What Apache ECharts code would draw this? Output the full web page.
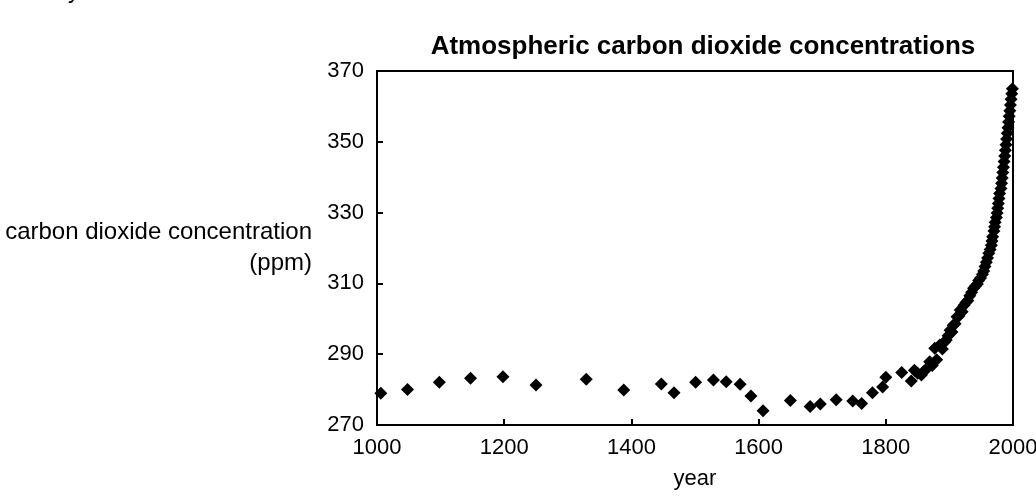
<!DOCTYPE html>
<html>
<head>
<meta charset="utf-8">
<script src="https://cdn.jsdelivr.net/npm/echarts@6/dist/echarts.min.js"></script>
<style>
html,body{margin:0;padding:0;background:#fff;}
#chart{width:1036px;height:500px;}
</style>
</head>
<body>
<div id="chart"></div>
<script>
// Atmospheric CO2 (ppm) by year
const years = [1006,1048,1098,1147,1198,1250,1329,1388,1447,1467,1501,1529,1549,1571,1588,1607,1650,1681,1697,1722,1748,1762,1779,1795,1800,
  1825,1840,1845,1850,1856,1860,1865,1869,1873,1877,1880,1885,1889,1892,1895,1898,1901,1904,1906,1909,1912,1915,1917,1920,1923,1926,1929,1932,1935,1938,1941,1944,1946,1949,1952,1954,1956,1958,
  1960,1962,1964,1966,1967,1968,1970,1971,1972,1974,1975,1976,1977,1978,1979,1981,1982,1983,1984,1985,1986,1987,1988,1989,1990,1991,1992,1993,1994,1995,1996,1997,1998,1999];
const co2 = [279.0,280.0,282.1,283.2,283.6,281.3,282.9,279.9,281.6,279.1,282.1,282.7,282.2,281.5,278.2,274.0,276.9,275.2,275.9,277.1,276.8,276.1,279.1,280.7,283.5,
  284.8,282.4,285.5,284.6,284.1,285.2,286.0,287.9,286.8,291.7,288.4,292.6,291.5,293.4,294.0,295.2,296.8,296.3,298.2,298.6,300.6,300.8,302.5,302.0,303.8,304.6,305.2,306.5,307.5,308.6,309.3,309.8,310.8,311.5,312.6,313.5,314.8,316.0,
  317.2,318.5,319.6,320.8,322.0,323.2,324.8,326.0,327.3,328.6,329.9,331.2,332.6,334.0,335.4,336.8,338.3,339.8,341.3,342.8,344.4,346.0,347.6,349.2,350.8,352.4,354.0,355.6,357.2,358.8,360.4,362.0,363.6,365.0];
const yTicks = [270,290,310,330,350,370];
const xTicks = [1000,1200,1400,1600,1800,2000];
const titleText = 'Atmospheric carbon dioxide concentrations';
const yName = ['carbon dioxide concentration', '(ppm)'];
const xName = 'year';

const FONT = '"Liberation Sans", Arial, sans-serif';
const chart = echarts.init(document.getElementById('chart'), null, {renderer: 'canvas'});
const pts = years.map((y, i) => [y, co2[i]]);

chart.setOption({
  animation: false,
  backgroundColor: '#fff',
  title: {
    text: titleText,
    left: 698, top: 29, textAlign: 'center',
    textStyle: {fontFamily: FONT, fontWeight: 'bold', fontSize: 26, color: '#000'}
  },
  grid: {left: 377, right: 23, top: 71, bottom: 75, containLabel: false, outerBoundsMode: 'none',
         show: true, borderColor: '#000', borderWidth: 2, backgroundColor: 'transparent'},
  xAxis: {
    type: 'value', min: xTicks[0], max: xTicks[xTicks.length - 1], interval: 200,
    name: xName, nameLocation: 'middle', nameGap: 43,
    nameTextStyle: {fontFamily: FONT, fontSize: 22, color: '#000'},
    axisLine: {show: true, lineStyle: {color: '#000', width: 2}},
    axisTick: {show: true, inside: true, length: 6, lineStyle: {color: '#000', width: 2}},
    axisLabel: {fontFamily: FONT, fontSize: 22, color: '#000', margin: 12, formatter: v => String(v)},
    splitLine: {show: false}
  },
  yAxis: {
    type: 'value', min: yTicks[0], max: yTicks[yTicks.length - 1], interval: 20,
    axisLine: {show: true, lineStyle: {color: '#000', width: 2}},
    axisTick: {show: true, inside: true, length: 6, lineStyle: {color: '#000', width: 2}},
    axisLabel: {fontFamily: FONT, fontSize: 22, color: '#000', margin: 13, formatter: v => String(v)},
    splitLine: {show: false}
  },
  graphic: [
    {type: 'text', right: 1036 - 312, top: 217,
     style: {text: yName[0] + '\n' + yName[1], font: '24px ' + FONT, fill: '#000', textAlign: 'right', lineHeight: 31}},
    {type: 'text', left: 68, top: -20, style: {text: 'y', font: '23px ' + FONT, fill: '#000'}}
  ],
  series: [{
    type: 'scatter',
    data: pts,
    symbol: 'diamond',
    symbolSize: [13, 13],
    itemStyle: {color: '#000', opacity: 1},
    clip: false
  }]
});
</script>
</body>
</html>
